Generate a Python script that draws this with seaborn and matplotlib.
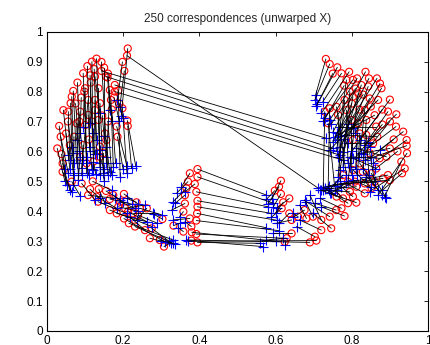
import matplotlib
matplotlib.use("Agg")
import matplotlib.pyplot as plt
import seaborn as sns
import pandas as pd

# ---- data: each row of four lists is one correspondence (circle X -> plus Y)
# left upper hook
left_cx = [0.130,0.143,0.106,0.124,0.095,0.113,0.080,0.069,0.065,0.062,0.043,0.056,0.032,0.036,0.027,0.038,0.041,0.041,
           0.198,0.203,0.159,0.165,0.187,0.198,0.211,0.212,0.183,0.185,0.168,0.139,0.126,0.135,0.100,0.108,0.087,0.078,
           0.071,0.100,0.108,0.126,0.135,0.095,0.087,0.104,0.122,0.139,0.152,0.156,0.148,0.139,
           0.126,0.115,0.098,0.090,0.150,0.118,0.160,0.176,0.190,
           0.055,0.050,0.060,0.075,0.085,0.118,0.145,0.160,0.170,0.110,0.212]
left_cy = [0.910,0.899,0.885,0.875,0.861,0.854,0.830,0.802,0.783,0.761,0.738,0.733,0.685,0.649,0.610,0.591,0.560,0.532,
           0.899,0.869,0.847,0.805,0.803,0.744,0.703,0.685,0.683,0.649,0.772,0.761,0.772,0.811,0.811,0.772,0.733,0.694,
           0.649,0.688,0.722,0.738,0.705,0.621,0.582,0.560,0.566,0.582,0.660,0.638,0.594,0.616,
           0.850,0.830,0.800,0.780,0.880,0.900,0.860,0.780,0.760,
           0.700,0.660,0.620,0.760,0.700,0.700,0.720,0.700,0.740,0.640,0.944]
left_px = [0.139,0.156,0.113,0.130,0.104,0.122,0.087,0.078,0.069,0.065,0.056,0.060,0.047,0.056,0.047,0.052,0.060,0.065,
           0.185,0.191,0.165,0.156,0.192,0.210,0.233,0.222,0.210,0.200,0.174,0.148,0.122,0.139,0.104,0.091,0.078,0.082,
           0.069,0.104,0.113,0.130,0.139,0.091,0.082,0.110,0.128,0.150,0.165,0.160,0.150,0.140,
           0.139,0.113,0.095,0.087,0.150,0.120,0.170,0.190,0.200,
           0.070,0.060,0.070,0.085,0.095,0.125,0.155,0.170,0.180,0.118,0.195]
left_py = [0.605,0.616,0.616,0.638,0.582,0.566,0.582,0.560,0.594,0.616,0.588,0.571,0.540,0.527,0.500,0.488,0.470,0.465,
           0.772,0.749,0.738,0.560,0.516,0.527,0.551,0.543,0.551,0.540,0.549,0.527,0.538,0.549,0.527,0.543,0.638,0.527,
           0.488,0.560,0.600,0.590,0.560,0.520,0.505,0.520,0.525,0.540,0.530,0.520,0.500,0.520,
           0.727,0.694,0.683,0.660,0.650,0.660,0.700,0.700,0.710,
           0.560,0.540,0.520,0.600,0.570,0.590,0.580,0.520,0.560,0.540,0.720]

# long correspondences from the left hook to the right cluster
long_cx = [0.143,0.155,0.178,0.178,0.210]
long_cy = [0.869,0.850,0.822,0.800,0.920]
long_px = [0.733,0.751,0.768,0.777,0.712]
long_py = [0.644,0.610,0.588,0.571,0.477]

# lower left arc
arc_cx = [0.065,0.091,0.113,0.136,0.155,0.108,0.130,0.134,0.165,0.165,0.183,0.202,0.192,0.205,0.202,0.215,0.226,0.235,
          0.244,0.231,0.262,0.257,0.275,0.270,0.296,0.307,0.303,0.239,0.213,0.187,0.174,0.120]
arc_cy = [0.499,0.493,0.474,0.474,0.468,0.454,0.449,0.432,0.441,0.404,0.393,0.458,0.432,0.410,0.376,0.360,0.393,0.430,
          0.410,0.349,0.410,0.337,0.343,0.310,0.304,0.282,0.374,0.387,0.399,0.415,0.454,0.500]
arc_px = [0.087,0.126,0.139,0.152,0.192,0.178,0.183,0.209,0.222,0.275,0.262,0.239,0.231,0.257,0.309,0.331,0.279,0.209,
          0.301,0.331,0.235,0.217,0.320,0.300,0.335,0.325,0.280,0.290,0.262,0.240,0.200,0.170]
arc_py = [0.452,0.438,0.443,0.427,0.438,0.443,0.410,0.393,0.424,0.349,0.365,0.424,0.410,0.421,0.298,0.304,0.393,0.443,
          0.388,0.293,0.371,0.382,0.300,0.300,0.290,0.295,0.390,0.360,0.365,0.400,0.430,0.470]

# middle hook
mid_cx = [0.395,0.375,0.395,0.370,0.388,0.366,0.392,0.362,0.395,0.362,0.395,0.358,0.394,0.375,0.392,0.332,0.379,0.358,
          0.392,0.379,0.395,0.380]
mid_cy = [0.541,0.527,0.515,0.499,0.491,0.477,0.465,0.454,0.435,0.426,0.415,0.399,0.393,0.376,0.369,0.352,0.349,0.332,
          0.324,0.302,0.296,0.330]
mid_px = [0.576,0.353,0.594,0.340,0.362,0.331,0.580,0.336,0.589,0.327,0.603,0.348,0.576,0.331,0.610,0.348,0.362,0.345,
          0.620,0.567,0.559,0.600]
mid_py = [0.454,0.482,0.427,0.460,0.465,0.432,0.415,0.426,0.393,0.404,0.370,0.382,0.345,0.371,0.335,0.360,0.365,0.345,
          0.310,0.282,0.293,0.300]

# middle right hook
mr_cx = [0.614,0.609,0.598,0.614,0.636,0.616,0.636,0.620]
mr_cy = [0.502,0.482,0.469,0.458,0.443,0.410,0.393,0.430]
mr_px = [0.590,0.580,0.576,0.594,0.603,0.589,0.610,0.600]
mr_py = [0.440,0.425,0.440,0.415,0.410,0.380,0.360,0.395]

# lower right arc
lr_cx = [0.642,0.659,0.681,0.698,0.720,0.742,0.759,0.781,0.812,0.790,0.773,0.720,0.746,0.703,0.690,0.707,0.642,0.629,
         0.624,0.760,0.777,0.803,0.834,0.852,0.860,0.834,0.812,0.795,0.882,0.895,0.900,0.676]
lr_cy = [0.371,0.382,0.376,0.382,0.371,0.382,0.404,0.384,0.429,0.427,0.410,0.337,0.343,0.315,0.296,0.302,0.326,0.310,
         0.298,0.449,0.443,0.449,0.460,0.477,0.499,0.493,0.482,0.465,0.510,0.521,0.504,0.404]
lr_px = [0.603,0.646,0.663,0.676,0.690,0.681,0.703,0.720,0.717,0.729,0.717,0.663,0.698,0.655,0.366,0.370,0.594,0.576,
         0.624,0.742,0.755,0.773,0.786,0.804,0.821,0.838,0.730,0.720,0.725,0.740,0.760,0.646]
lr_py = [0.360,0.393,0.421,0.438,0.454,0.432,0.427,0.415,0.471,0.477,0.443,0.371,0.393,0.349,0.304,0.300,0.326,0.304,
         0.287,0.460,0.471,0.482,0.493,0.504,0.499,0.516,0.475,0.470,0.480,0.485,0.490,0.380]

# upper right cluster
ur_cx = [0.732,0.742,0.762,0.773,0.793,0.803,0.814,0.836,0.845,0.866,0.874,0.878,0.900,0.895,0.917,0.916,0.935,0.944,
         0.944,0.945,0.930,0.939,0.932,0.900,0.891,0.864,0.873,0.856,0.867,0.864,0.860,0.869,0.847,0.843,0.825,0.817,
         0.803,0.795,0.786,0.781,0.760,0.742,0.729,0.738,0.764,0.786,0.799,0.817,0.834,0.838,0.821,0.838,0.803,0.847,
         0.821,0.803,0.829,0.851,0.777,0.790,0.808,
         0.750,0.780,0.810,0.830,0.850,0.880,0.900,0.910,0.920,0.880,0.820,0.800]
ur_cy = [0.909,0.892,0.881,0.861,0.866,0.839,0.844,0.866,0.844,0.844,0.827,0.811,0.773,0.733,0.724,0.683,0.666,0.638,
         0.619,0.594,0.566,0.543,0.527,0.610,0.582,0.543,0.577,0.627,0.649,0.683,0.721,0.772,0.777,0.817,0.822,0.794,
         0.783,0.800,0.839,0.772,0.749,0.744,0.733,0.694,0.722,0.738,0.705,0.694,0.738,0.705,0.660,0.655,0.638,0.594,
         0.560,0.538,0.532,0.527,0.521,0.499,0.499,
         0.860,0.820,0.810,0.790,0.750,0.740,0.700,0.640,0.600,0.690,0.740,0.760]
ur_px = [0.705,0.703,0.707,0.724,0.720,0.729,0.742,0.751,0.760,0.790,0.803,0.808,0.821,0.834,0.843,0.847,0.873,0.856,
         0.834,0.869,0.886,0.847,0.880,0.825,0.812,0.803,0.795,0.790,0.781,0.769,0.755,0.742,0.769,0.777,0.764,0.795,
         0.769,0.777,0.760,0.764,0.786,0.738,0.725,0.755,0.770,0.790,0.800,0.810,0.820,0.830,0.815,0.845,0.790,0.860,
         0.870,0.850,0.880,0.890,0.740,0.745,0.760,
         0.710,0.725,0.745,0.760,0.780,0.800,0.830,0.850,0.860,0.810,0.770,0.750]
ur_py = [0.788,0.772,0.752,0.766,0.727,0.711,0.705,0.666,0.638,0.690,0.677,0.660,0.638,0.621,0.632,0.616,0.605,0.560,
         0.571,0.454,0.449,0.466,0.470,0.594,0.610,0.577,0.582,0.627,0.655,0.683,0.649,0.605,0.616,0.599,0.582,0.549,
         0.538,0.549,0.600,0.516,0.521,0.477,0.470,0.483,0.500,0.560,0.520,0.540,0.580,0.540,0.520,0.520,0.500,0.500,
         0.470,0.480,0.455,0.445,0.470,0.460,0.470,
         0.760,0.700,0.690,0.660,0.640,0.600,0.590,0.580,0.540,0.580,0.650,0.630]

title = "250 correspondences (unwarped X)"
x_ticks = [0, 0.2, 0.4, 0.6, 0.8, 1]
x_tick_labels = ["0", "0.2", "0.4", "0.6", "0.8", "1"]
y_ticks = [0, 0.1, 0.2, 0.3, 0.4, 0.5, 0.6, 0.7, 0.8, 0.9, 1]
y_tick_labels = ["0", "0.1", "0.2", "0.3", "0.4", "0.5", "0.6", "0.7", "0.8", "0.9", "1"]

cx = left_cx + long_cx + arc_cx + mid_cx + mr_cx + lr_cx + ur_cx
cy = left_cy + long_cy + arc_cy + mid_cy + mr_cy + lr_cy + ur_cy
px = left_px + long_px + arc_px + mid_px + mr_px + lr_px + ur_px
py = left_py + long_py + arc_py + mid_py + mr_py + lr_py + ur_py

pts = pd.DataFrame({"cx": cx, "cy": cy, "px": px, "py": py})
seg = pd.concat([
    pd.DataFrame({"pair": range(len(cx)), "end": 0, "x": cx, "y": cy}),
    pd.DataFrame({"pair": range(len(cx)), "end": 1, "x": px, "y": py}),
]).sort_values(["pair", "end"])

sns.set_style("white")
plt.rcParams["font.family"] = ["Liberation Sans", "DejaVu Sans"]

fig = plt.figure(figsize=(4.31, 3.45), dpi=100)
ax = fig.add_axes([0.109, 0.0406, 0.884, 0.8675])

sns.scatterplot(data=pts, x="cx", y="cy", marker="o", s=26, facecolors="none",
                edgecolor="#ff0000", linewidth=0.8, ax=ax, zorder=2, legend=False)
sns.scatterplot(data=pts, x="px", y="py", marker="+", s=45, color="#0000ff",
                linewidth=0.8, ax=ax, zorder=3, legend=False)
sns.lineplot(data=seg, x="x", y="y", units="pair", estimator=None, sort=False,
             color="black", linewidth=0.6, ax=ax, zorder=4, legend=False)

ax.set_xlim(0, 1)
ax.set_ylim(0, 1)
ax.set_xticks(x_ticks)
ax.set_xticklabels(x_tick_labels)
ax.set_yticks(y_ticks)
ax.set_yticklabels(y_tick_labels)
ax.set_xlabel("")
ax.set_ylabel("")
ax.tick_params(direction="in", length=3, width=0.6, labelsize=8.5, top=True, right=True,
               colors="black", pad=3)
for s in ax.spines.values():
    s.set_visible(True)
    s.set_color("black")
    s.set_linewidth(0.8)
ax.set_title(title, fontsize=8.5, pad=7)

fig.savefig("out.png", dpi=100)
